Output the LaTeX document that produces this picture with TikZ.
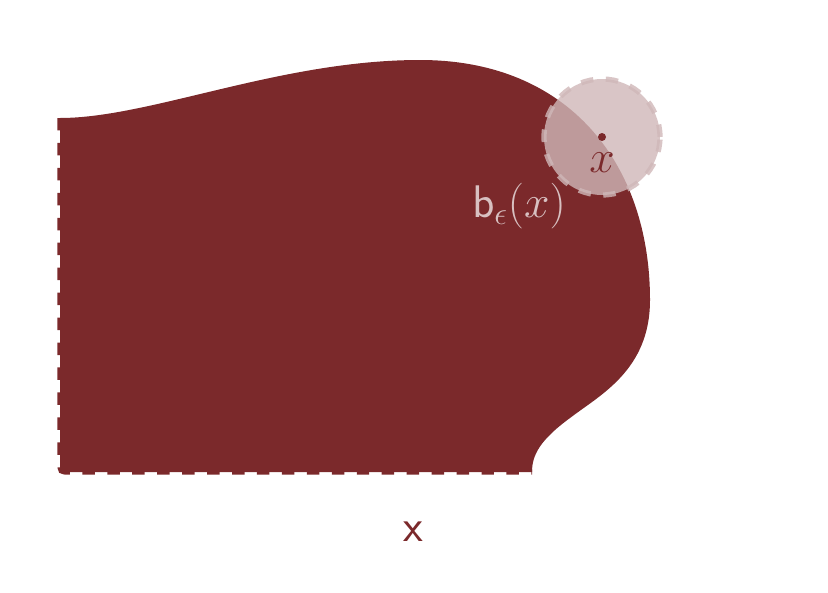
\RequirePackage{fix-cm}
\documentclass[tikz,border=0pt]{standalone}
\usepackage{amsmath,amssymb}
\usepackage{tikz}
\usetikzlibrary{positioning}
\definecolor{darkred}{RGB}{123, 41, 43}
\definecolor{ballpink}{RGB}{207, 183, 184}
\definecolor{lightpink}{RGB}{216, 192, 193}

\begin{document}
\begin{tikzpicture}[x=0.02cm, y=-0.02cm, font=\fontsize{26}{30}\selectfont,
    border/.style={line width=3pt, line cap=butt, dash pattern=on 7.1pt off 7.1pt}]
\useasboundingbox (0,0) rectangle (828,592);

% Corners of the region
\coordinate (topleft) at (60,118);
\coordinate (corner) at (60,472);
\coordinate (foot) at (532,472);

% Region
\fill[darkred] (topleft) -- (60,462) .. controls (corner) .. (70,472) -- (foot)
      .. controls (532,455) and (540,440) .. (570,418)
      .. controls (600,395) and (650,370) .. (650,300)
      .. controls (650,165) and (570,60) .. (420,60)
      .. controls (280,60) and (150,118) .. cycle;
\draw[border, draw=darkred] (topleft) -- (60,462) .. controls (corner) .. (70,472) -- (foot);

% Ball around the point
\node[circle, minimum size=2.32cm, inner sep=0pt, fill=ballpink, draw=ballpink,
      fill opacity=0.8, draw opacity=0.8, border] (ball) at (602,137) {};
\node[circle, fill=darkred, inner sep=0pt, minimum size=0.16cm] (pt) at (ball.center) {};
\node[text=darkred, below=3pt of pt] (ptlabel) {$x$};

% Labels
\node[text=lightpink] (balllabel) at (519,206) {$\mathsf{b}_\epsilon(x)$};
\node[text=darkred] (setlabel) at (413,532) {$\mathsf{x}$};

\end{tikzpicture}
\end{document}
